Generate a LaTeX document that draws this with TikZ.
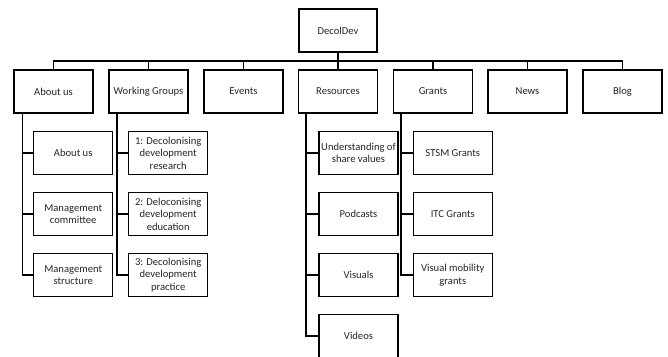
\documentclass[tikz,border=0pt]{standalone}
\usepackage{fontspec}
\setmainfont{Carlito}
\begin{document}
\begin{tikzpicture}[x=1pt,y=-1pt,
  box/.style={draw=black,line width=1.4pt,fill=white,align=center,inner sep=0pt,
    font=\fontsize{10.6}{12.5}\selectfont,text=black!85},
  topbox/.style={box,minimum width=78pt,minimum height=43pt},
  lvlbox/.style={box,minimum width=79pt,minimum height=43pt},
  kidbox/.style={box,minimum width=79pt,minimum height=42.5pt},
  conn/.style={draw=black,line width=1.4pt}]
\useasboundingbox (0,0) rectangle (668,356);
\fill[white] (0,0) rectangle (668,356);
% top
\node[topbox] (root) at (338,30.5) {DecolDev};
% level 1
\node[lvlbox] (about) at (53.5,91.5) {About us};
\node[lvlbox] (wg) at (148.5,91.5) {Working Groups};
\node[lvlbox] (events) at (243.5,91.5) {Events};
\node[lvlbox] (res) at (338,91.5) {Resources};
\node[lvlbox] (grants) at (433,91.5) {Grants};
\node[lvlbox] (news) at (527.5,91.5) {News};
\node[lvlbox] (blog) at (622.5,91.5) {Blog};
% bus
\coordinate (busL) at (53.5,61);
\coordinate (busR) at (622.5,61);
\coordinate (busM) at (338,61);
\draw[conn] (root.south) -- (busM);
\draw[conn,line cap=rect] (busL) -- (busR);
\foreach \n in {about,wg,events,res,grants,news,blog}{
  \draw[conn] (\n.north) -- (\n.north |- busM);
}
% About us children
\node[kidbox] (a1) at (73.2,153) {About us};
\node[kidbox] (a2) at (73.2,214) {Management\\committee};
\node[kidbox] (a3) at (73.2,275) {Management\\structure};
% WG children
\node[kidbox] (w1) at (168.2,153) {1: Decolonising\\development\\research};
\node[kidbox] (w2) at (168.2,214) {2: Deloconising\\development\\education};
\node[kidbox] (w3) at (168.2,275) {3: Decolonising\\development\\practice};
% Resources children
\node[kidbox] (r1) at (358.5,153) {Understanding of\\share values};
\node[kidbox] (r2) at (358.5,214) {Podcasts};
\node[kidbox] (r3) at (358.5,275) {Visuals};
\node[kidbox] (r4) at (358.5,336) {Videos};
% Grants children
\node[kidbox] (g1) at (452.8,153) {STSM Grants};
\node[kidbox] (g2) at (452.8,214) {ITC Grants};
\node[kidbox] (g3) at (452.8,275) {Visual mobility\\grants};
% connectors
\foreach \k in {a1,a2,a3}{ \draw[conn] ([xshift=9pt]about.south west) |- (\k.west); }
\foreach \k in {w1,w2,w3}{ \draw[conn] ([xshift=8.5pt]wg.south west) |- (\k.west); }
\foreach \k in {r1,r2,r3,r4}{ \draw[conn] ([xshift=8pt]res.south west) |- (\k.west); }
\foreach \k in {g1,g2,g3}{ \draw[conn] ([xshift=8pt]grants.south west) |- (\k.west); }
\end{tikzpicture}
\end{document}
